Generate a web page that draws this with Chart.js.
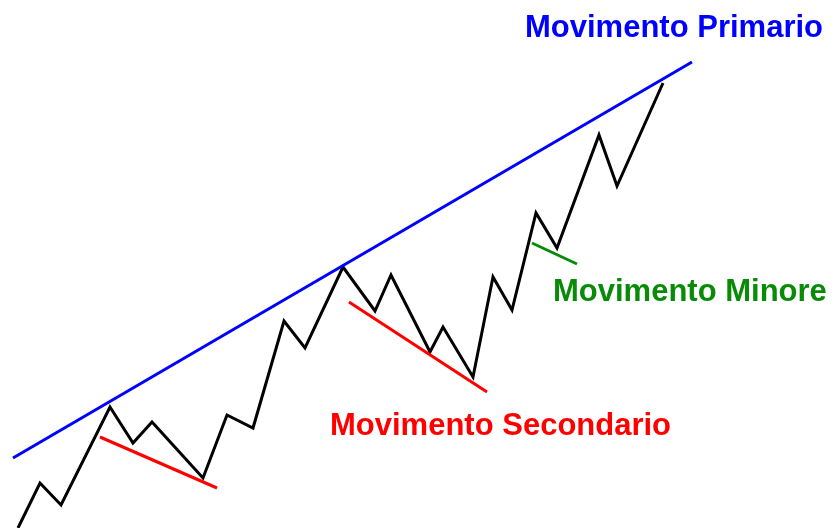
<!DOCTYPE html>
<html>
<head>
<meta charset="utf-8">
<script src="https://cdn.jsdelivr.net/npm/chart.js@4.4.1/dist/chart.umd.min.js"></script>
<style>
  html, body { margin: 0; padding: 0; background: #fff; }
  #wrap { width: 833px; height: 528px; position: relative; }
</style>
</head>
<body>
<div id="wrap"><canvas id="c"></canvas></div>
<script>
// prezzo (x = tempo, y = livello)
const priceX = [18, 40, 61, 110, 133, 152, 203, 227, 253, 284, 305, 343, 375, 391, 430, 443, 473, 493, 512, 536, 557, 599, 617, 663];
const priceY = [0, 45, 23, 121, 85, 106, 50, 113, 100, 207, 180, 261, 217, 253, 176, 201, 151, 251, 218, 315, 280, 393, 342, 445];

// linee di tendenza
const primarioX = [13, 692];
const primarioY = [70, 466];
const secondario1X = [100, 217];
const secondario1Y = [91, 40];
const secondario2X = [349, 487];
const secondario2Y = [226, 136];
const minoreX = [532, 577];
const minoreY = [285, 264];

// etichette
const labelText = ['Movimento Primario', 'Movimento Minore', 'Movimento Secondario'];
const labelX = [525, 553, 330];
const labelY = [491, 227, 93];
const labelColor = ['#0000ff', '#088c08', '#ff0000'];

const toPoints = (xs, ys) => xs.map((x, i) => ({ x: x, y: ys[i] }));

const lineSet = (xs, ys, color) => ({
    data: toPoints(xs, ys),
    borderColor: color,
    borderWidth: 3,
    showLine: true,
    pointRadius: 0,
    tension: 0,
    fill: false,
    clip: false
});

// disegna le etichette sulle coordinate dei dati
const labelPlugin = {
    id: 'labels',
    afterDatasetsDraw(chart) {
        const ctx = chart.ctx;
        const sx = chart.scales.x, sy = chart.scales.y;
        ctx.save();
        ctx.font = 'bold 31px "Liberation Sans", Arial, sans-serif';
        ctx.textBaseline = 'alphabetic';
        ctx.textAlign = 'left';
        labelText.forEach((t, i) => {
            ctx.fillStyle = labelColor[i];
            ctx.fillText(t, sx.getPixelForValue(labelX[i]), sy.getPixelForValue(labelY[i]));
        });
        ctx.restore();
    }
};

new Chart(document.getElementById('c'), {
    type: 'scatter',
    data: {
        datasets: [
            lineSet(primarioX, primarioY, '#0000ff'),
            lineSet(secondario1X, secondario1Y, '#ff0000'),
            lineSet(secondario2X, secondario2Y, '#ff0000'),
            lineSet(minoreX, minoreY, '#088c08'),
            lineSet(priceX, priceY, '#000000')
        ]
    },
    options: {
        responsive: true,
        maintainAspectRatio: false,
        animation: false,
        layout: { padding: 0 },
        plugins: {
            legend: { display: false },
            tooltip: { enabled: false }
        },
        scales: {
            x: { type: 'linear', min: 0, max: 833, display: false },
            y: { type: 'linear', min: 0, max: 528, display: false }
        }
    },
    plugins: [labelPlugin]
});
</script>
</body>
</html>
